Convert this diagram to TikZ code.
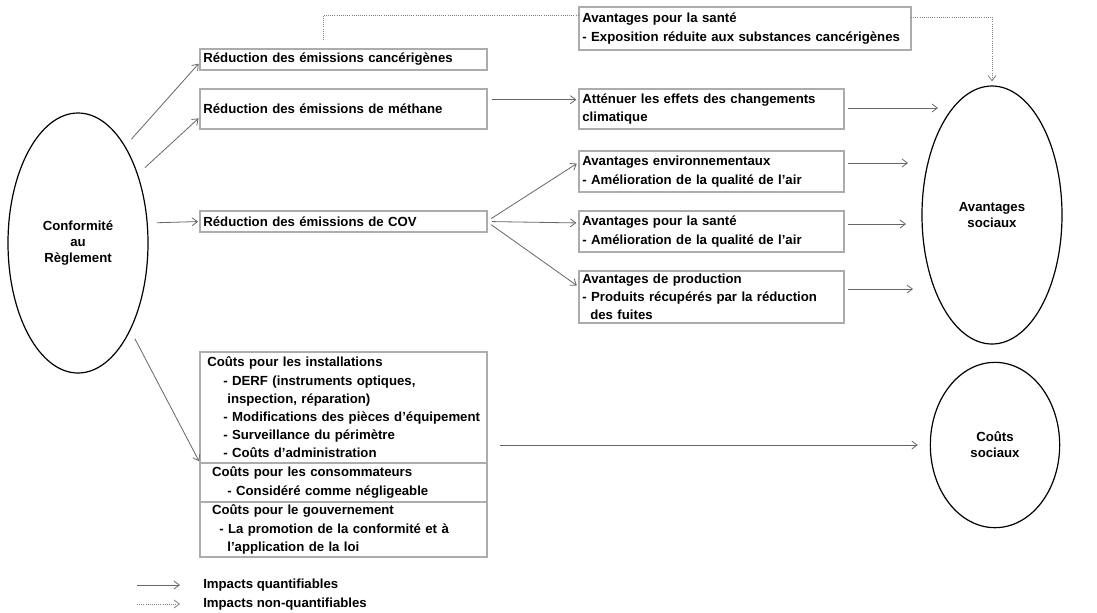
\documentclass[tikz,border=0pt]{standalone}
\usepackage{fontspec}
\setmainfont{Liberation Sans}
\usetikzlibrary{positioning,shapes.geometric,arrows.meta}

\begin{document}
\begin{tikzpicture}[x=0.75pt, y=-0.75pt, >={Straight Barb[length=4pt,width=6pt]},
    every node/.style={font=\fontsize{9.9}{13.65}\selectfont\bfseries},
    box/.style={draw=gray!65, line width=1.5pt, anchor=north west, align=left,
        inner xsep=2.5pt, inner ysep=0pt, outer sep=0pt},
    oval/.style={draw, ellipse, line width=0.9pt, align=center,
        font=\fontsize{9.9}{12}\selectfont\bfseries},
    arr/.style={->, gray!80!black, line width=0.6pt},
    dotarr/.style={->, gray, densely dotted, line width=0.6pt}]
    \useasboundingbox (0,0) rectangle (1097,612);

    \node[oval, minimum width=105pt, minimum height=195pt] (conf) at (78,243) {Conformité\\au\\Règlement};
    \node[oval, minimum width=105pt, minimum height=193.5pt] (soc) at (992,215) {Avantages\\sociaux};
    \node[oval, minimum width=97pt, minimum height=124pt] (cs) at (995,445) {Coûts\\sociaux};

    \node[box, text width=210pt, minimum height=15.75pt] (cancer) at (200,49) {Réduction des émissions cancérigènes};
    \node[box, text width=210pt, minimum height=30pt] (meth) at (200,89) {Réduction des émissions de méthane};
    \node[box, text width=210pt, minimum height=15.75pt] (cov) at (200,211) {Réduction des émissions de COV};

    \node[box, text width=244pt, minimum height=32.25pt] (sante) at (579,7) {Avantages pour la santé\\- Exposition réduite aux substances cancérigènes};
    \node[box, text width=194pt, minimum height=30pt] (att) at (579,89) {Atténuer les effets des changements\\climatique};
    \node[box, text width=194pt, minimum height=30.75pt] (env) at (579,151) {Avantages environnementaux\\- Amélioration de la qualité de l'air};
    \node[box, text width=194pt, minimum height=30.75pt] (santeb) at (579,211) {Avantages pour la santé\\- Amélioration de la qualité de l'air};
    \node[box, text width=194pt, minimum height=39pt] (prod) at (579,271) {Avantages de production\\- Produits récupérés par la réduction\\\hspace*{6pt}des fuites};

    % couts
    \node[box, text width=210pt, minimum height=83.25pt] (inst) at (200,352) {\hspace*{3pt}Coûts pour les installations\\
        \hspace*{15pt}- DERF (instruments optiques,\\
        \hspace*{18pt}inspection, réparation)\\
        \hspace*{15pt}- Modifications des pièces d’équipement\\
        \hspace*{15pt}- Surveillance du périmètre\\
        \hspace*{15pt}- Coûts d’administration};
    \node[box, text width=210pt, minimum height=29.25pt, below=0pt of inst] (cons) {\hspace*{6.5pt}Coûts pour les consommateurs\\
        \hspace*{18pt}- Considéré comme négligeable};
    \node[box, text width=210pt, minimum height=41.25pt, below=0pt of cons] (gouv) {\hspace*{6.5pt}Coûts pour le gouvernement\\
        \hspace*{12pt}- La promotion de la conformité et à\\
        \hspace*{18pt}l’application de la loi};

    \draw[arr, shorten <=7pt, shorten >=1.5pt] (conf.64) -- ([yshift=-2pt]cancer.west);
    \draw[arr, shorten <=7pt, shorten >=1.5pt] (conf.49) -- ([yshift=-6pt]meth.west);
    \draw[arr, shorten <=7pt, shorten >=1.5pt] (conf.16) -- (cov.west);
    \draw[arr, shorten <=7pt, shorten >=1.5pt] (conf.-59) -- (inst.south west);

    \draw[arr, shorten <=4pt, shorten >=2pt] ([yshift=7pt]meth.east) -- ([yshift=7pt]att.west);
    \foreach \b/\s in {env/7pt, santeb/6.4pt, prod/7.5pt}
        \draw[arr, shorten <=4pt, shorten >=2pt] (cov.east) -- ([yshift=\s]\b.west);

    \coordinate (a1) at (938,108);
    \coordinate (a2) at (908,163);
    \coordinate (a3) at (906,224);
    \coordinate (a4) at (913,289);
    \foreach \b/\c in {att/a1, env/a2, santeb/a3, prod/a4}
        \draw[arr, shorten <=3pt] (\b.east |- \c) -- (\c);

    \draw[arr, shorten <=10pt, shorten >=9pt] (inst.east |- cs.west) -- (cs.west);

    \coordinate (d0) at (323,40);
    \draw[dotarr, -] (d0) |- ([yshift=10pt]sante.west);
    \draw[dotarr, shorten >=3pt] ([yshift=8.6pt]sante.east) -| (soc.north);

    % legende
    \node[anchor=west, inner sep=0pt] (lq) at (203,585) {Impacts quantifiables};
    \node[anchor=west, inner sep=0pt] (lnq) at (203,604) {Impacts non-quantifiables};
    \coordinate (q0) at (137,585);
    \coordinate (q1) at (180,585);
    \coordinate (n0) at (137,604);
    \coordinate (n1) at (180,604);
    \draw[arr] (q0) -- (q1);
    \draw[dotarr] (n0) -- (n1);
\end{tikzpicture}
\end{document}
